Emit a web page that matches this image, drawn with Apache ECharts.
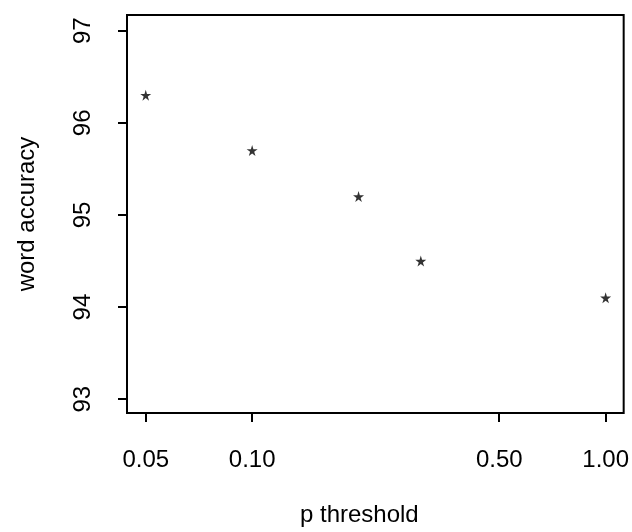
<!DOCTYPE html>
<html>
<head>
<meta charset="utf-8">
<script src="https://cdn.jsdelivr.net/npm/echarts@6/dist/echarts.min.js"></script>
<style>
  html, body { margin: 0; padding: 0; background: #fff; }
  #chart { width: 632px; height: 532px; }
</style>
</head>
<body>
<div id="chart"></div>
<script>
// p threshold (log scale) vs word accuracy
const thresholds = [0.05, 0.1, 0.2, 0.3, 1.0]
const accuracy = [96.3, 95.7, 95.2, 94.5, 94.1]
const xTicks = [0.05, 0.1, 0.5, 1.0]
const yTicks = [93, 94, 95, 96, 97]

const font = 'Liberation Sans, Arial, Helvetica, sans-serif'
const log10 = v => Math.log10(v)
// R style 4% padding on log range
const xMin = log10(0.05) - 0.053
const xMax = 0.051

const chart = echarts.init(document.getElementById('chart'))

const option = {
  animation: false,
  grid: {
    left: 127, right: 7, top: 15, bottom: 119,
    show: true,
    borderColor: '#000',
    borderWidth: 2,
    backgroundColor: 'transparent'
  },
  xAxis: {
    type: 'value',
    min: xMin,
    max: xMax,
    name: 'p threshold',
    nameLocation: 'middle',
    nameGap: 90,
    nameTextStyle: { color: '#000', fontSize: 24, fontFamily: font, padding: [0, 32, 0, 0] },
    axisLine: { show: false, onZero: false },
    splitLine: { show: false },
    axisTick: {
      show: true, inside: false, length: 9,
      lineStyle: { color: '#000', width: 2 },
      customValues: xTicks.map(log10)
    },
    axisLabel: {
      color: '#000', fontSize: 24, fontFamily: font, margin: 35,
      customValues: xTicks.map(log10),
      formatter: v => Math.pow(10, v).toFixed(2)
    }
  },
  yAxis: {
    type: 'value',
    min: 92.85,
    max: 97.17,
    name: 'word accuracy',
    nameLocation: 'middle',
    nameGap: 88,
    nameTextStyle: { color: '#000', fontSize: 24, fontFamily: font },
    axisLine: { show: false, onZero: false },
    splitLine: { show: false },
    axisTick: {
      show: true, inside: false, length: 9,
      lineStyle: { color: '#000', width: 2 },
      customValues: yTicks
    },
    axisLabel: {
      color: '#000', fontSize: 24, fontFamily: font, margin: 32, rotate: 90,
      customValues: yTicks
    }
  },
  series: [
    {
      type: 'scatter',
      symbol: 'path://M50,0 L61,35 L98,35 L68,57 L79,91 L50,70 L21,91 L32,57 L2,35 L39,35 Z',
      symbolSize: 11,
      itemStyle: { color: '#000' },
      data: thresholds.map((t, i) => [log10(t), accuracy[i]])
    }
  ]
}

chart.setOption(option)
</script>
</body>
</html>
